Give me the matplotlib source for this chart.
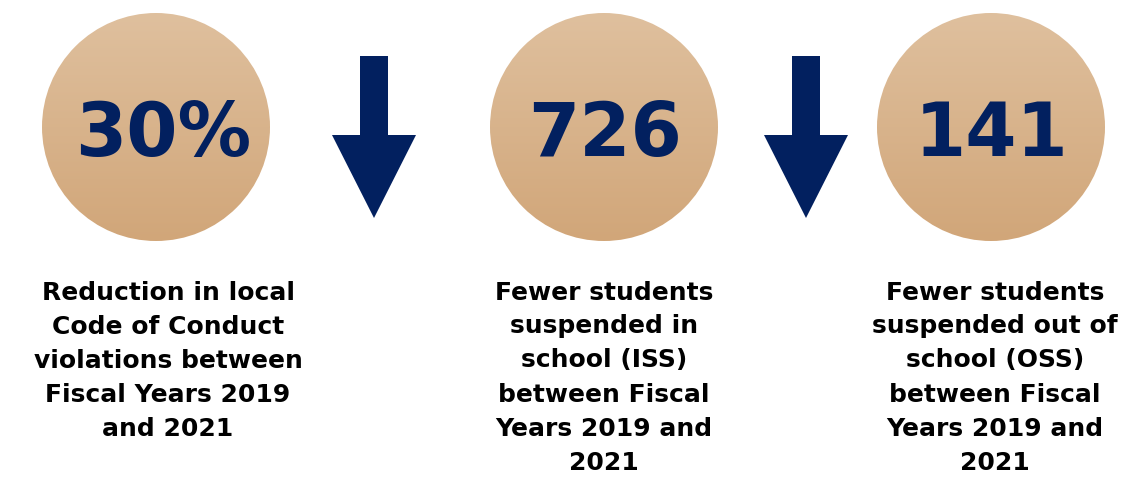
import numpy as np
import matplotlib
matplotlib.use("Agg")
import matplotlib.pyplot as plt
from matplotlib.patches import Circle, Polygon

# ---- data ----
values = ["30%", "726", "141"]
descriptions = [
    ["Reduction in local", "Code of Conduct", "violations between", "Fiscal Years 2019", "and 2021"],
    ["Fewer students", "suspended in", "school (ISS)", "between Fiscal", "Years 2019 and", "2021"],
    ["Fewer students", "suspended out of", "school (OSS)", "between Fiscal", "Years 2019 and", "2021"],
]

# ---- layout / style ----
W, H = 1144, 478
navy = "#02205F"
circle_x = [156, 604, 991]
value_x = [163, 605, 992]
circle_y = 127
radius = 114
text_x = [168, 604, 995]
text_top = 290
line_gap = 34.0
arrow_x = [374, 806]

fig = plt.figure(figsize=(W / 100, H / 100), dpi=100)
ax = fig.add_axes([0, 0, 1, 1])
ax.set_xlim(0, W)
ax.set_ylim(H, 0)
ax.axis("off")

top_c = np.array([223, 192, 158]) / 255
bot_c = np.array([209, 166, 121]) / 255
t = np.linspace(0, 1, 256)[:, None]
grad = (top_c[None, :] * (1 - t) + bot_c[None, :] * t)[:, None, :]

for cx in circle_x:
    im = ax.imshow(grad, extent=[cx - radius, cx + radius, circle_y + radius, circle_y - radius],
                   aspect="auto", interpolation="bilinear", zorder=1)
    clip = Circle((cx, circle_y), radius, transform=ax.transData, facecolor="none", edgecolor="none")
    ax.add_patch(clip)
    im.set_clip_path(clip)

for vx, v in zip(value_x, values):
    ax.text(vx, circle_y, v, ha="center", va="center_baseline", fontsize=53,
            fontweight="bold", color=navy, family="DejaVu Sans", zorder=3)

for ax_x in arrow_x:
    pts = [(ax_x - 14, 56), (ax_x + 14, 56), (ax_x + 14, 135), (ax_x + 42, 135),
           (ax_x, 218), (ax_x - 42, 135), (ax_x - 14, 135)]
    ax.add_patch(Polygon(pts, closed=True, facecolor=navy, edgecolor="none", zorder=2))

for tx, lines in zip(text_x, descriptions):
    for i, line in enumerate(lines):
        ax.text(tx, text_top + i * line_gap, line, ha="center", va="center_baseline",
                fontsize=18, fontweight="bold", color="black", family="DejaVu Sans")

ax.set_xlim(0, W)
ax.set_ylim(H, 0)
fig.savefig("out.png", dpi=100)
